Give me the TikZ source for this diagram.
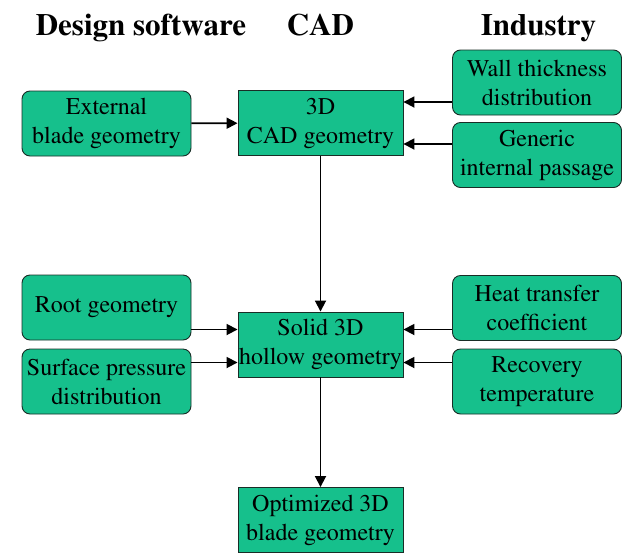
\documentclass[tikz,border=0pt]{standalone}
\usepackage[T1]{fontenc}
\renewcommand{\rmdefault}{ptm}
\usetikzlibrary{arrows.meta}
\usepackage{xcolor}
\definecolor{boxgreen}{RGB}{22,192,140}
\definecolor{boxline}{RGB}{25,45,38}
\tikzset{
	sidebox/.style={draw=boxline,line width=0.9pt,fill=boxgreen,rounded corners=8pt,
		minimum width=169pt,minimum height=65pt,inner sep=0pt,align=center,
		font=\rmfamily\fontsize{24}{29}\selectfont},
	cadbox/.style={draw=boxline,line width=0.9pt,fill=boxgreen,
		minimum width=165pt,minimum height=65pt,inner sep=0pt,align=center,
		font=\rmfamily\fontsize{24}{29}\selectfont},
	heading/.style={anchor=base,font=\rmfamily\fontsize{31}{36}\selectfont\bfseries},
	arr/.style={-{Triangle[length=11pt,width=11pt]},line width=1.8pt}
}
\newcommand{\sidenode}[3]{\node[sidebox] (#1) at (#2) {#3};}
\newcommand{\cadnode}[3]{\node[cadbox] (#1) at (#2) {#3};}

\begin{document}
\begin{tikzpicture}[x=1pt,y=-1pt]

		\useasboundingbox (0,0) rectangle (623,552);

    % column headings
    \node[heading] (hdes) at (141,35) {Design software};
    \node[heading] (hcad) at (320.5,35) {CAD};
    \node[heading] (hind) at (538.5,35) {Industry};

    % upper row
    \sidenode{ext}{106.5,123.5}{External\\blade geometry}
    \cadnode{cad}{320.5,123}{3D\\CAD geometry}
    \sidenode{wall}{537,82.5}{Wall thickness\\distribution}
    \sidenode{gen}{537,155}{Generic\\internal passage}

    % lower row
    \sidenode{root}{106.5,307.5}{Root geometry}
    \sidenode{surf}{106.5,381.5}{Surface pressure\\distribution}
    \cadnode{solid}{320.5,344.5}{Solid 3D\\hollow geometry}
    \sidenode{heat}{537,308}{Heat transfer\\coefficient}
    \sidenode{reco}{537,381.5}{Recovery\\temperature}

    % result
    \cadnode{opt}{320.5,520}{Optimized 3D\\blade geometry}

    \draw[arr] (ext) -- (cad);
    \draw[arr] ([yshift=21pt]cad.east -| wall.west) -- ([yshift=21pt]cad.east);
    \draw[arr] ([yshift=-21pt]cad.east -| gen.west) -- ([yshift=-21pt]cad.east);

    \draw[arr] ([yshift=15pt]solid.west -| root.east) -- ([yshift=15pt]solid.west);
    \draw[arr] ([yshift=-18pt]solid.west -| surf.east) -- ([yshift=-18pt]solid.west);
    \draw[arr] ([yshift=15pt]solid.east -| heat.west) -- ([yshift=15pt]solid.east);
    \draw[arr] ([yshift=-18pt]solid.east -| reco.west) -- ([yshift=-18pt]solid.east);

    \draw[arr] (cad) -- (solid);
    \draw[arr] (solid) -- (opt);
    \end{tikzpicture}
\end{document}
